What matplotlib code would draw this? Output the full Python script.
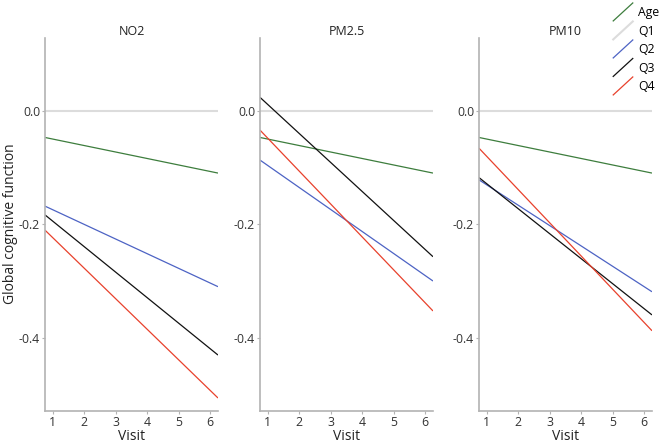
import matplotlib.pyplot as plt
from matplotlib.legend_handler import HandlerBase
from matplotlib.lines import Line2D

plt.rcParams['font.family'] = ['Open Sans', 'DejaVu Sans']

# panels and series
pollutants = ["NO2", "PM2.5", "PM10"]
series = ["Age", "Q1", "Q2", "Q3", "Q4"]
colors = ["#3d7d3d", "#dcdcdc", "#4d63c4", "#111111", "#e8412c"]

# x range of the fitted lines (visit)
x_ends = [0.75, 6.25]

# line values at start / end of visit range, per pollutant
start_vals = {
    "NO2":   [-0.046, 0.0, -0.1675, -0.183, -0.210],
    "PM2.5": [-0.046, 0.0, -0.086, 0.025, -0.033],
    "PM10":  [-0.046, 0.0, -0.121, -0.117, -0.065],
}
end_vals = {
    "NO2":   [-0.109, 0.0, -0.310, -0.431, -0.507],
    "PM2.5": [-0.109, 0.0, -0.300, -0.257, -0.353],
    "PM10":  [-0.109, 0.0, -0.319, -0.360, -0.388],
}

y_ticks = [0.0, -0.2, -0.4]
y_tick_labels = ["0.0", "-0.2", "-0.4"]
x_ticks = [1, 2, 3, 4, 5, 6]


class DiagHandler(HandlerBase):
    # ggplot style diagonal legend key
    def create_artists(self, legend, orig, xd, yd, w, h, fs, trans):
        ln = Line2D([-xd, -xd + w], [-yd - h * 0.55, -yd + h * 1.55],
                    color=orig.get_color(), lw=orig.get_linewidth())
        ln.set_transform(trans)
        return [ln]


fig = plt.figure(figsize=(6.6, 4.43), dpi=100)
lefts = [45, 260, 479]
width = 173
bottom, top = 411, 38
W, H = 660, 443

handles = []
for i, p in enumerate(pollutants):
    ax = fig.add_axes([lefts[i] / W, 1 - bottom / H, width / W, (bottom - top) / H])
    # draw Q1 (reference) first, then others
    order = [1, 0, 2, 3, 4]
    for j in order:
        l, = ax.plot(x_ends, [start_vals[p][j], end_vals[p][j]], color=colors[j],
                     lw=1.5 if j == 1 else 0.9, solid_capstyle='butt')
        if i == 0:
            handles.append((j, l))
    ax.set_xlim(0.75, 6.25)
    ax.set_ylim(-0.53, 0.13)
    ax.set_xticks(x_ticks)
    ax.set_yticks(y_ticks)
    ax.set_yticklabels(y_tick_labels)
    for s in ["top", "right"]:
        ax.spines[s].set_visible(False)
    for s in ["left", "bottom"]:
        ax.spines[s].set_color("#b3b3b3")
        ax.spines[s].set_linewidth(1.2)
    ax.tick_params(axis='both', colors="#b3b3b3", labelcolor="#333333",
                   labelsize=8.8, length=2, width=0.8, pad=1.5)
    ax.set_xlabel("Visit", fontsize=10, color="#222222", labelpad=0)
    ax.set_title(p, fontsize=9, color="#222222", pad=2.5)

# shared y label on the left edge
fig.text(3 / W, 1 - 224 / H, "Global cognitive function", rotation=90,
         ha="left", va="center", fontsize=10, color="#222222")

handles.sort()
fig.legend([h for _, h in handles], series, loc="upper left",
           bbox_to_anchor=(612 / W, 1 - 5 / H), frameon=False, fontsize=8.8,
           handlelength=1.6, handletextpad=0.45, labelspacing=0.45,
           borderaxespad=0.0, borderpad=0.1,
           handler_map={Line2D: DiagHandler()})

fig.savefig("out.png", dpi=100)
